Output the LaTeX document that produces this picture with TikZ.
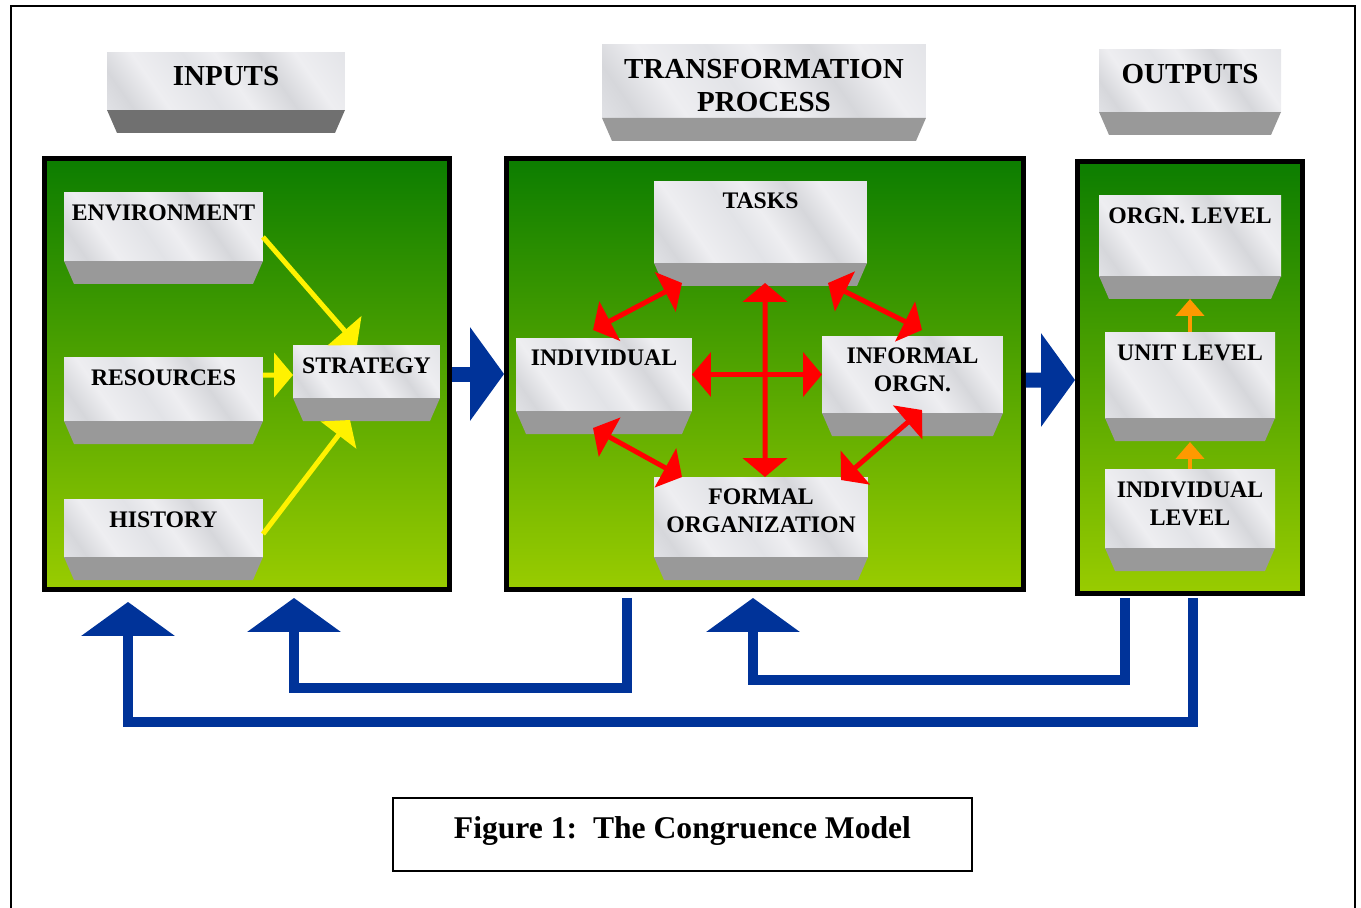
\documentclass[tikz,border=0pt]{standalone}
\usepackage{fontspec}
\setmainfont{Liberation Serif}
\usetikzlibrary{arrows.meta}
\definecolor{marbleA}{RGB}{238,238,241}
\definecolor{marbleB}{RGB}{214,215,219}
\definecolor{marbleC}{RGB}{226,227,231}
\definecolor{slabgrey}{RGB}{153,153,153}
\definecolor{slabdark}{RGB}{112,112,112}
\definecolor{pgreen}{RGB}{12,125,0}
\definecolor{plime}{RGB}{153,204,0}
\definecolor{fbblue}{RGB}{0,51,153}
\definecolor{lvlorange}{RGB}{255,153,0}
\pgfdeclarehorizontalshading{marble}{100bp}{color(0bp)=(marbleA); color(14bp)=(marbleC); color(22bp)=(marbleB); color(31bp)=(marbleA); color(44bp)=(marbleC); color(52bp)=(marbleA); color(63bp)=(marbleB); color(72bp)=(marbleA); color(86bp)=(marbleC); color(100bp)=(marbleA)}
\begin{document}
\begin{tikzpicture}[x=0.02cm,y=-0.02cm,line join=miter]
\tikzset{
  slab/.style={shade,shading=marble,shading angle=35,inner sep=0pt,outer sep=0pt,align=center,
    font=\bfseries\fontsize{13.5}{16}\selectfont},
  headslab/.style={slab,font=\bfseries\fontsize{16.5}{18.8}\selectfont},
  lift/.style={text depth=#1},
  panel/.style={draw=black,line width=0.1cm,top color=pgreen,bottom color=plime,inner sep=0pt},
  feeds/.style={yellow,line width=0.1cm,-{Triangle[length=0.38cm,width=0.88cm]}},
  fits/.style={red,line width=0.1cm,{Triangle[length=0.38cm,width=0.88cm]}-{Triangle[length=0.38cm,width=0.88cm]}},
  rises/.style={lvlorange,line width=0.09cm,-{Triangle[length=0.34cm,width=0.56cm]}},
  flow/.style={fbblue,line width=0.3cm,-{Triangle[length=0.68cm,width=1.84cm]}},
  feedback/.style={fbblue,line width=0.2cm,-{Triangle[length=0.68cm,width=1.84cm]}}
}
\useasboundingbox (0,0) rectangle (1361,907);
\draw[line width=0.04cm] (11,930) -- (11,6) -- (1355,6) -- (1355,930);

\node[headslab,minimum width=4.76cm,minimum height=1.16cm,lift=0.2cm] (inputs) at (226,81) {INPUTS};
\node[headslab,minimum width=6.48cm,minimum height=1.48cm,text height=1.22cm,lift=0cm] (procth) at (764,81) {TRANSFORMATION\\PROCESS};
\node[headslab,minimum width=3.64cm,minimum height=1.26cm,lift=0.28cm] (outputs) at (1190,80.5) {OUTPUTS};

\node[panel,minimum width=8.1cm,minimum height=8.62cm] (inbox) at (247,374) {};
\node[panel,minimum width=10.34cm,minimum height=8.62cm] (procbox) at (765,374) {};
\node[panel,minimum width=4.5cm,minimum height=8.64cm] (outbox) at (1190,377.5) {};

\node[slab,minimum width=3.98cm,minimum height=1.38cm,lift=0.54cm] (env) at (163.5,226.5) {ENVIRONMENT};
\node[slab,minimum width=3.98cm,minimum height=1.28cm,lift=0.44cm] (res) at (163.5,389) {RESOURCES};
\node[slab,minimum width=3.98cm,minimum height=1.16cm,lift=0.32cm] (hist) at (163.5,528) {HISTORY};
\node[slab,minimum width=2.94cm,minimum height=1.06cm,lift=0.22cm] (strategy) at (366.5,371.5) {STRATEGY};

\node[slab,minimum width=4.26cm,minimum height=1.64cm,lift=0.84cm] (tasks) at (760.5,222) {TASKS};
\node[slab,minimum width=3.52cm,minimum height=1.46cm,lift=0.66cm] (indiv) at (604,374.5) {INDIVIDUAL};
\node[slab,minimum width=3.62cm,minimum height=1.54cm,lift=0.2cm] (informal) at (912.5,374.5) {INFORMAL\\ORGN.};
\node[slab,minimum width=4.28cm,minimum height=1.6cm,lift=0.24cm] (formal) at (761,517) {FORMAL\\ORGANIZATION};

\node[slab,minimum width=3.64cm,minimum height=1.62cm,lift=0.78cm] (orgnlvl) at (1190,235.5) {ORGN. LEVEL};
\node[slab,minimum width=3.4cm,minimum height=1.72cm,lift=0.88cm] (unitlvl) at (1190,375) {UNIT LEVEL};
\node[slab,minimum width=3.4cm,minimum height=1.58cm,lift=0.2cm] (indivlvl) at (1190,508.5) {INDIVIDUAL\\LEVEL};

\foreach \n/\c in {inputs/slabdark,procth/slabgrey,outputs/slabgrey,env/slabgrey,res/slabgrey,hist/slabgrey,
    strategy/slabgrey,tasks/slabgrey,indiv/slabgrey,informal/slabgrey,formal/slabgrey,
    orgnlvl/slabgrey,unitlvl/slabgrey,indivlvl/slabgrey}
  \fill[\c] (\n.south west) -- (\n.south east) -- ([xshift=-0.2cm,yshift=-0.46cm]\n.south east)
    -- ([xshift=0.2cm,yshift=-0.46cm]\n.south west) -- cycle;

\draw[feeds] ([yshift=-0.21cm]env.east) -- ([xshift=-0.19cm]strategy.north);
\draw[feeds] ([yshift=0.28cm]res.east) -- ([yshift=-0.07cm]strategy.west);
\draw[feeds] ([yshift=-0.12cm]hist.east) -- ([xshift=-0.33cm,yshift=-0.44cm]strategy.south);

\draw[fits] ([xshift=-0.22cm,yshift=0.16cm]indiv.north) -- ([xshift=-1.57cm,yshift=-0.4cm]tasks.south);
\draw[fits] ([xshift=1.35cm,yshift=-0.4cm]tasks.south) -- ([xshift=0.19cm,yshift=0.12cm]informal.north);
\draw[fits] ([xshift=-0.22cm,yshift=-0.34cm]indiv.south) -- ([xshift=-1.58cm]formal.north);
\draw[fits] ([xshift=0.19cm,yshift=0.06cm]informal.south) -- ([xshift=1.6cm,yshift=-0.06cm]formal.north);
\draw[fits] ([xshift=0.09cm,yshift=-0.4cm]tasks.south) -- ([xshift=0.08cm]formal.north);
\draw[fits] (indiv.east) -- (informal.west);

\draw[rises] (unitlvl.north) -- ([yshift=-0.46cm]orgnlvl.south);
\draw[rises] (indivlvl.north) -- ([yshift=-0.48cm]unitlvl.south);

\draw[flow] (inbox.east) -- (procbox.west);
\draw[flow] ([yshift=-0.12cm]procbox.east) -- ([yshift=-0.05cm]outbox.west);

\draw[feedback] ([xshift=-2.76cm,yshift=-0.12cm]procbox.south) -- ++(0,90) -| ([xshift=0.94cm,yshift=-0.12cm]inbox.south);
\draw[feedback] ([xshift=-1.3cm,yshift=-0.04cm]outbox.south) -- ++(0,82) -| ([xshift=-0.24cm,yshift=-0.12cm]procbox.south);
\draw[feedback] ([xshift=0.06cm,yshift=-0.04cm]outbox.south) -- ++(0,124) -| ([xshift=-2.38cm,yshift=-0.2cm]inbox.south);

\node[draw,line width=0.04cm,minimum width=11.58cm,minimum height=1.46cm,inner sep=0pt,lift=0.26cm,
  font=\bfseries\fontsize{18}{22}\selectfont] (caption) at (682.5,834.5) {Figure 1:\ \ The Congruence Model};
\end{tikzpicture}
\end{document}
